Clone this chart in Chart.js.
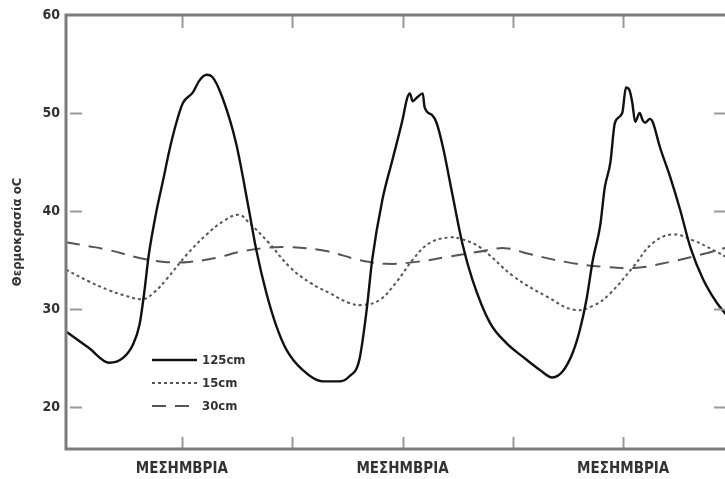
<!DOCTYPE html>
<html>
<head>
<meta charset="utf-8">
<script src="https://cdn.jsdelivr.net/npm/chart.js@4.4.1/dist/chart.umd.min.js"></script>
<style>
  html, body { margin: 0; padding: 0; background: #fff; overflow: hidden; width: 725px; height: 479px; }
  #wrap { width: 731px; height: 479px; }
</style>
</head>
<body>
<div id="wrap"><canvas id="c" width="731" height="479"></canvas></div>
<script>
// Hours from start of record; noon marks at 12, 36, 60
const hours125 = [-0.6, 1.9, 4.1, 5.6, 6.7, 7.4, 7.9, 8.4, 9.2, 10.0, 10.6, 11.4, 12.1, 13.2, 13.9, 14.7, 15.3, 16.4, 17.9, 19.3, 20.1, 21.2, 22.3, 23.4, 25.1, 27.3, 29.1, 30.2, 31.3, 32.1, 32.7, 33.8, 34.9, 36.0, 36.5, 36.8, 37.1, 37.6, 38.2, 38.4, 39.2, 39.7, 40.4, 41.4, 42.5, 43.6, 45.5, 47.3, 49.1, 50.9, 52.3, 53.4, 54.5, 55.3, 56.0, 56.7, 57.5, 58.0, 58.6, 59.1, 59.9, 60.3, 60.7, 61.0, 61.3, 61.8, 62.1, 62.4, 62.9, 63.2, 64.0, 65.1, 66.2, 67.3, 68.7, 70.2, 71.4];
const temp125 = [27.7, 26.0, 24.5, 25.0, 26.4, 28.4, 31.6, 35.5, 39.8, 43.3, 46.0, 49.0, 51.0, 52.1, 53.3, 53.9, 53.7, 51.6, 46.9, 40.1, 36.0, 31.6, 28.2, 25.8, 23.8, 22.6, 22.6, 23.1, 24.8, 29.9, 35.0, 41.1, 45.2, 49.3, 51.5, 52.0, 51.2, 51.6, 52.0, 50.6, 49.8, 49.0, 46.5, 41.8, 36.7, 33.0, 28.6, 26.5, 25.1, 23.8, 23.0, 23.6, 25.5, 27.9, 30.9, 35.0, 38.5, 42.4, 44.9, 49.0, 50.0, 52.6, 52.3, 51.0, 49.1, 50.0, 49.3, 49.0, 49.4, 49.1, 46.5, 43.5, 40.1, 36.3, 33.0, 30.6, 29.2];

const hours15 = [-0.6, 1.9, 4.1, 5.7, 7.8, 9.0, 10.3, 12.5, 14.7, 16.6, 18.2, 19.3, 21.5, 23.7, 25.9, 28.1, 30.2, 31.6, 33.5, 35.3, 37.1, 38.9, 41.1, 42.5, 44.4, 48.1, 51.8, 54.7, 56.9, 58.6, 61.1, 63.2, 65.4, 67.6, 69.8, 71.4];
const temp15 = [34.0, 32.8, 31.9, 31.4, 31.0, 31.7, 33.0, 35.5, 37.6, 39.0, 39.6, 38.8, 36.7, 34.3, 32.7, 31.6, 30.6, 30.4, 30.9, 32.7, 35.0, 36.7, 37.3, 37.1, 36.3, 33.3, 31.2, 29.9, 30.4, 31.6, 34.3, 36.7, 37.6, 37.0, 36.0, 35.2];

const hours30 = [-0.6, 1.9, 4.1, 7.4, 10.1, 12.8, 15.7, 18.2, 20.8, 23.7, 27.7, 31.3, 34.3, 37.5, 40.8, 44.1, 47.1, 49.8, 53.7, 57.8, 61.5, 65.1, 68.7, 71.4];
const temp30 = [36.8, 36.4, 36.0, 35.2, 34.8, 34.8, 35.2, 35.8, 36.2, 36.3, 35.9, 35.0, 34.6, 34.8, 35.3, 35.8, 36.2, 35.6, 34.8, 34.3, 34.2, 34.8, 35.6, 36.3];

const seriesLabels = ['125cm', '15cm', '30cm'];
const xTickHours = [12, 24, 36, 48, 60];
const noonHours = [12, 36, 60];
const noonLabel = 'ΜΕΣΗΜΒΡΙΑ';
const yTicks = [20, 30, 40, 50, 60];
const yTitle = 'Θερμοκρασία οC';

const toPts = (xs, ys) => xs.map((x, i) => ({ x: x, y: ys[i] }));
const FONT = "'DejaVu Sans Condensed', 'DejaVu Sans', sans-serif";

const framePlugin = {
  id: 'frame',
  afterDatasetsDraw(chart) {
    const { ctx, chartArea: a, scales } = chart;
    ctx.save();
    ctx.strokeStyle = '#9a9a9a';
    ctx.lineWidth = 2;
    ctx.beginPath();
    xTickHours.forEach(h => {
      const px = Math.round(scales.x.getPixelForValue(h)) + 0.5;
      ctx.moveTo(px, a.bottom); ctx.lineTo(px, a.bottom - 12);
      ctx.moveTo(px, a.top); ctx.lineTo(px, a.top + 13);
    });
    yTicks.forEach(v => {
      if (v >= 60) return;
      const py = Math.round(scales.y.getPixelForValue(v)) + 0.5;
      ctx.moveTo(a.left + 4, py); ctx.lineTo(a.left + 16, py);
      ctx.moveTo(a.right, py); ctx.lineTo(a.right - 14, py);
    });
    ctx.stroke();
    ctx.strokeStyle = '#7c7c7c';
    ctx.lineWidth = 3;
    ctx.strokeRect(a.left, a.top, a.right - a.left, a.bottom - a.top);
    ctx.restore();
  }
};

const legendPlugin = {
  id: 'inlineLegend',
  afterDatasetsDraw(chart) {
    const { ctx } = chart;
    ctx.save();
    const x0 = 152, x1 = 197, tx = 202;
    const rows = [360, 383, 406];
    chart.data.datasets.forEach((ds, i) => {
      const y = rows[i];
      ctx.strokeStyle = ds.borderColor;
      ctx.lineWidth = ds.borderWidth;
      ctx.setLineDash(ds.borderDash || []);
      ctx.beginPath();
      ctx.moveTo(x0, y); ctx.lineTo(x1, y);
      ctx.stroke();
      ctx.setLineDash([]);
      ctx.fillStyle = '#333';
      ctx.font = 'bold 13px ' + FONT;
      ctx.textBaseline = 'middle';
      ctx.textAlign = 'left';
      ctx.fillText(ds.label, tx, y + 1);
    });
    ctx.restore();
  }
};

new Chart(document.getElementById('c'), {
  type: 'line',
  data: {
    datasets: [
      { label: seriesLabels[0], data: toPts(hours125, temp125), borderColor: '#111', borderWidth: 2.4, borderDash: [], cubicInterpolationMode: 'monotone', pointRadius: 0 },
      { label: seriesLabels[1], data: toPts(hours15, temp15), borderColor: '#555', borderWidth: 2, borderDash: [3, 3], tension: 0.4, pointRadius: 0 },
      { label: seriesLabels[2], data: toPts(hours30, temp30), borderColor: '#555', borderWidth: 2, borderDash: [14, 9], tension: 0.4, pointRadius: 0 }
    ]
  },
  options: {
    responsive: false,
    animation: false,
    layout: { padding: { top: 15, right: 3, left: 0, bottom: 0 } },
    plugins: { legend: { display: false }, tooltip: { enabled: false } },
    scales: {
      x: {
        type: 'linear',
        min: -0.6,
        max: 71.4,
        afterBuildTicks: s => { s.ticks = xTickHours.map(v => ({ value: v })); },
        afterFit: s => { s.height = 30; },
        grid: { display: false, drawTicks: false },
        border: { display: false },
        ticks: {
          autoSkip: false,
          maxRotation: 0,
          padding: 11,
          color: '#333',
          font: { family: FONT, size: 15, weight: 'bold' },
          callback: v => noonHours.includes(v) ? noonLabel : ''
        }
      },
      y: {
        min: 15.7,
        max: 60,
        afterBuildTicks: s => { s.ticks = yTicks.map(v => ({ value: v })); },
        afterFit: s => { s.width = 66; },
        grid: { display: false, drawTicks: false },
        border: { display: false },
        ticks: {
          padding: 6,
          color: '#333',
          font: { family: FONT, size: 14, weight: 'bold' }
        },
        title: {
          display: true,
          text: yTitle,
          color: '#333',
          padding: { top: 10, bottom: 0 },
          font: { family: FONT, size: 13, weight: 'bold' }
        }
      }
    }
  },
  plugins: [framePlugin, legendPlugin]
});
</script>
</body>
</html>
